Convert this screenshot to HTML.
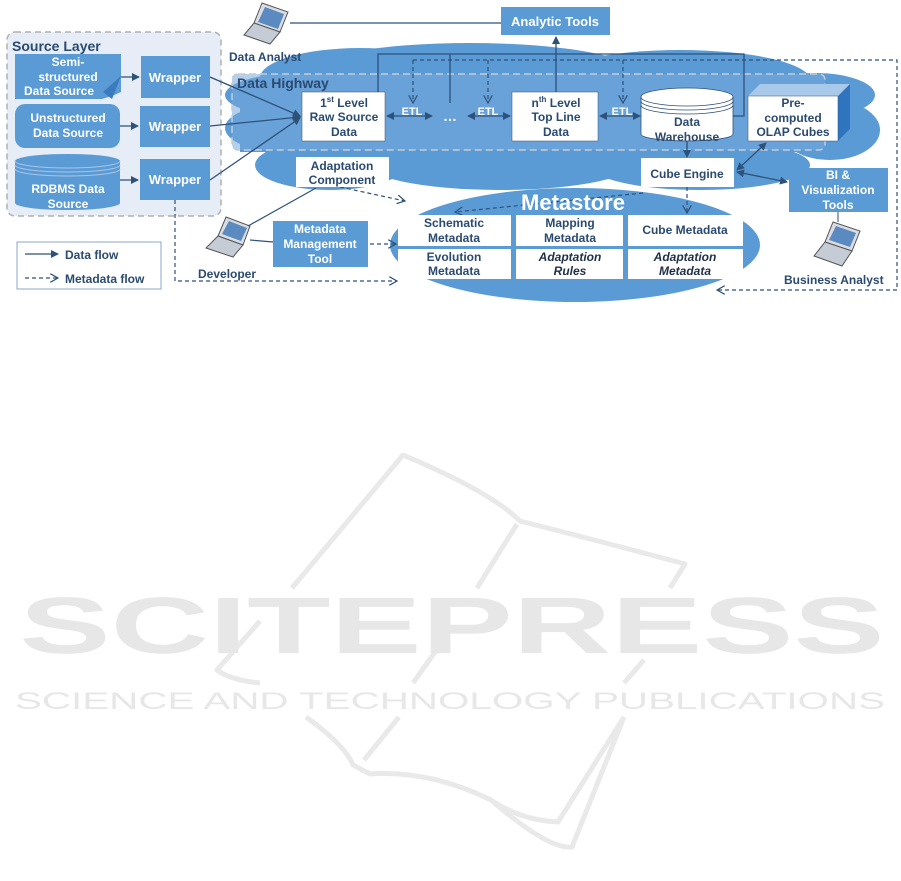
<!DOCTYPE html>
<html><head><meta charset="utf-8"><style>
html,body{margin:0;padding:0;background:#fff;}
svg{display:block;font-family:"Liberation Sans",sans-serif;}
</style></head><body>
<svg width="901" height="881" viewBox="0 0 901 881" xmlns="http://www.w3.org/2000/svg">
<defs>
<marker id="a" markerWidth="8" markerHeight="8" refX="7" refY="4" orient="auto" markerUnits="userSpaceOnUse"><path d="M0,0 L8,4 L0,8 Z" fill="#2e5179"/></marker>
<marker id="as" markerWidth="8" markerHeight="8" refX="1" refY="4" orient="auto" markerUnits="userSpaceOnUse"><path d="M8,0 L0,4 L8,8 Z" fill="#2e5179"/></marker>
<marker id="o" markerWidth="9" markerHeight="9" refX="8" refY="4.5" orient="auto" markerUnits="userSpaceOnUse"><path d="M0,0 L8,4.5 L0,9" fill="none" stroke="#2e5179" stroke-width="1.2"/></marker>
</defs>

<!-- watermark -->
<g fill="none" stroke="#e8e9e8" stroke-width="5" stroke-linejoin="round">
<path d="M292,588 L403,455 Q491,492 520,521 Q607,543 685,564 L670,588"/>
<path d="M517,524 L477,588"/>
<path d="M260,621 L217,670 Q230,680 260,683"/>
<path d="M445,638 L413,683"/>
<path d="M644,660 L624,683"/>
<path d="M306,717 Q345,745 353,765 L370,774 Q430,770 491,800 Q520,820 558,822 L624,717"/>
<path d="M399,717 L364,760"/>
<path d="M624,717 L572,847 Q549,850 491,800"/>
</g>
<text x="452" y="653" text-anchor="middle" font-size="80" font-weight="bold" fill="#e6e7e6" textLength="865" lengthAdjust="spacingAndGlyphs">SCITEPRESS</text>
<text x="450" y="709" text-anchor="middle" font-size="24" fill="#e6e7e6" textLength="870" lengthAdjust="spacingAndGlyphs">SCIENCE AND TECHNOLOGY PUBLICATIONS</text>

<!-- Source layer -->
<rect x="7" y="32" width="214" height="184" rx="8" fill="#e6edf6" stroke="#b0b0b0" stroke-width="1.5" stroke-dasharray="6,4"/>
<text x="12" y="51" font-size="14" font-weight="bold" fill="#2a4a70">Source Layer</text>

<!-- cloud -->
<g fill="#5b9bd5">
<ellipse cx="470" cy="75" rx="170" ry="32"/>
<ellipse cx="360" cy="78" rx="100" ry="30"/>
<ellipse cx="680" cy="80" rx="130" ry="30"/>
<ellipse cx="300" cy="95" rx="75" ry="22"/>
<ellipse cx="290" cy="128" rx="65" ry="25"/>
<ellipse cx="815" cy="95" rx="60" ry="22"/>
<ellipse cx="830" cy="130" rx="50" ry="30"/>
<rect x="240" y="88" width="610" height="64"/>
<ellipse cx="330" cy="165" rx="75" ry="25"/>
<ellipse cx="500" cy="160" rx="140" ry="30"/>
<ellipse cx="700" cy="165" rx="110" ry="25"/>
<ellipse cx="575" cy="245" rx="185" ry="57"/>
</g>
<rect x="232" y="74" width="593" height="76" rx="6" fill="#72a8dc" fill-opacity="0.55" stroke="#c4ccd6" stroke-width="1.5" stroke-dasharray="7,4"/>
<text x="237" y="88" font-size="14" font-weight="bold" fill="#2a4a70">Data Highway</text>

<!-- source boxes -->
<path d="M15,54 H121 V92 L112,96 L102,99 H15 Z" fill="#5b9bd5"/>
<path d="M121,76 L103,92 L112,99 Z" fill="#3a7bc0"/>
<g font-size="12" font-weight="bold" fill="#fff" text-anchor="middle">
<text x="68" y="66">Semi-</text>
<text x="68" y="81">structured</text>
<text x="59" y="95">Data Source</text>
</g>
<rect x="15" y="104" width="105" height="44" rx="10" fill="#5b9bd5"/>
<g font-size="12" font-weight="bold" fill="#fff" text-anchor="middle">
<text x="68" y="122">Unstructured</text>
<text x="68" y="137">Data Source</text>
</g>
<path d="M15,161 V203 A52.5,7 0 0 0 120,203 V161 A52.5,7 0 0 0 15,161 Z" fill="#5b9bd5"/>
<path d="M15,161 A52.5,7 0 0 0 120,161 M15,165 A52.5,7 0 0 0 120,165 M15,169 A52.5,7 0 0 0 120,169" fill="none" stroke="#a9c6e6" stroke-width="1"/>
<g font-size="12" font-weight="bold" fill="#fff" text-anchor="middle">
<text x="68" y="193">RDBMS Data</text>
<text x="68" y="208">Source</text>
</g>
<g fill="#5b9bd5">
<rect x="141" y="56" width="69" height="42"/>
<rect x="140" y="106" width="70" height="41"/>
<rect x="140" y="159" width="70" height="41"/>
</g>
<g font-size="13" font-weight="bold" fill="#fff" text-anchor="middle">
<text x="175" y="82">Wrapper</text>
<text x="175" y="131">Wrapper</text>
<text x="175" y="184">Wrapper</text>
</g>
<g stroke="#2e5179" stroke-width="1.3" fill="none" marker-end="url(#a)">
<line x1="121" y1="77" x2="139" y2="77"/>
<line x1="120" y1="126" x2="138" y2="126"/>
<line x1="120" y1="180" x2="138" y2="180"/>
<line x1="210" y1="77" x2="300" y2="116"/>
<line x1="210" y1="126" x2="300" y2="117"/>
<line x1="210" y1="180" x2="300" y2="118"/>
</g>

<!-- legend -->
<rect x="17" y="242" width="144" height="47" fill="#fff" stroke="#8aa8cc" stroke-width="1"/>
<line x1="25" y1="254" x2="58" y2="254" stroke="#2e5179" stroke-width="1.3" marker-end="url(#a)"/>
<line x1="25" y1="278" x2="58" y2="278" stroke="#2e5179" stroke-width="1.2" stroke-dasharray="4,3" marker-end="url(#o)"/>
<g font-size="12" font-weight="bold" fill="#2a4a70">
<text x="65" y="259">Data flow</text>
<text x="65" y="283">Metadata flow</text>
</g>

<!-- laptops -->
<g fill="#d9dde3" stroke="#555" stroke-width="1">
<path d="M262,3 L288,12 L280,32 L254,23 Z"/>
<path d="M254,23 L280,32 L270,44 L244,35 Z" fill="#c6ccd6"/>
</g>
<path d="M265,7 L284,14 L278,29 L258,22 Z" fill="#5a8ac0"/>
<g fill="#d9dde3" stroke="#555" stroke-width="1">
<path d="M226,217 L250,226 L243,245 L218,236 Z"/>
<path d="M218,236 L243,245 L233,257 L206,248 Z" fill="#c6ccd6"/>
</g>
<path d="M229,221 L247,228 L241,241 L222,234 Z" fill="#5a8ac0"/>
<g fill="#d9dde3" stroke="#555" stroke-width="1">
<path d="M833,222 L860,231 L852,251 L825,242 Z"/>
<path d="M825,242 L852,251 L842,266 L814,256 Z" fill="#c6ccd6"/>
</g>
<path d="M836,226 L856,233 L850,247 L829,240 Z" fill="#5a8ac0"/>
<g font-size="12" font-weight="bold" fill="#2a4a70">
<text x="229" y="61">Data Analyst</text>
<text x="198" y="278">Developer</text>
<text x="784" y="284">Business Analyst</text>
</g>

<!-- analytic tools -->
<rect x="501" y="7" width="109" height="28" fill="#5b9bd5"/>
<text x="555" y="26" font-size="13" font-weight="bold" fill="#fff" text-anchor="middle">Analytic Tools</text>
<line x1="290" y1="23" x2="501" y2="23" stroke="#2e5179" stroke-width="1.3"/>

<!-- top connectors -->
<g stroke="#2e5179" stroke-width="1.3" fill="none">
<path d="M378,92 V54 H744 V116 H733"/>
<line x1="450" y1="54" x2="450" y2="103"/>
<line x1="556" y1="92" x2="556" y2="37" marker-end="url(#a)"/>
</g>
<g stroke="#2e5179" stroke-width="1.2" fill="none" stroke-dasharray="4,3">
<path d="M413,60 H897 V290 H717" marker-end="url(#o)"/>
<line x1="413" y1="60" x2="413" y2="103" marker-end="url(#o)"/>
<line x1="488" y1="60" x2="488" y2="103" marker-end="url(#o)"/>
<line x1="623" y1="60" x2="623" y2="103" marker-end="url(#o)"/>
<path d="M175,200 V281 H397" marker-end="url(#o)"/>
<line x1="370" y1="244" x2="396" y2="244" marker-end="url(#o)"/>
<line x1="340" y1="187" x2="405" y2="201" marker-end="url(#o)"/>
<line x1="687" y1="187" x2="687" y2="213" marker-end="url(#o)"/>
<line x1="643" y1="193" x2="455" y2="212" marker-end="url(#o)"/>
</g>

<!-- highway boxes -->
<rect x="302" y="92" width="83" height="49" fill="#fff" stroke="#2e5179" stroke-width="0.5"/>
<g font-size="12" font-weight="bold" fill="#2a4a70" text-anchor="middle">
<text x="344" y="107">1<tspan font-size="8" dy="-5">st</tspan><tspan dy="5"> Level</tspan></text>
<text x="344" y="121">Raw Source</text>
<text x="344" y="136">Data</text>
</g>
<rect x="512" y="92" width="86" height="49" fill="#fff" stroke="#2e5179" stroke-width="0.5"/>
<g font-size="12" font-weight="bold" fill="#2a4a70" text-anchor="middle">
<text x="556" y="107">n<tspan font-size="8" dy="-5">th</tspan><tspan dy="5"> Level</tspan></text>
<text x="556" y="121">Top Line</text>
<text x="556" y="136">Data</text>
</g>
<text x="450" y="121" font-size="14" font-weight="bold" fill="#fff" text-anchor="middle">…</text>
<g stroke="#2e5179" stroke-width="1.3" marker-end="url(#a)" marker-start="url(#as)">
<line x1="387" y1="116" x2="432" y2="116"/>
<line x1="468" y1="116" x2="510" y2="116"/>
<line x1="600" y1="116" x2="640" y2="116"/>
</g>
<g font-size="11" font-weight="bold" fill="#fff" text-anchor="middle">
<text x="412" y="115">ETL</text>
<text x="488" y="115">ETL</text>
<text x="622" y="115">ETL</text>
</g>
<!-- warehouse -->
<path d="M641,97 V134 A46,7 0 0 0 733,134 V97 A46,9 0 0 0 641,97 Z" fill="#fff" stroke="#2e5179" stroke-width="0.8"/>
<path d="M641,97 A46,9 0 0 0 733,97 M641,101 A46,9 0 0 0 733,101 M641,105 A46,9 0 0 0 733,105" fill="none" stroke="#2e5179" stroke-width="0.8"/>
<g font-size="12" font-weight="bold" fill="#2a4a70" text-anchor="middle">
<text x="687" y="126">Data</text>
<text x="687" y="141">Warehouse</text>
</g>
<!-- olap cube -->
<path d="M748,96 L760,84 H850 V129 L838,141 Z" fill="#a8c9ea"/>
<path d="M838,96 L850,84 V129 L838,141 Z" fill="#2f74bf"/>
<rect x="748" y="96" width="90" height="45" fill="#fff" stroke="#2e5179" stroke-width="0.5"/>
<g font-size="12" font-weight="bold" fill="#2a4a70" text-anchor="middle">
<text x="793" y="107">Pre-</text>
<text x="793" y="122">computed</text>
<text x="793" y="136">OLAP Cubes</text>
</g>
<!-- cube engine -->
<rect x="641" y="158" width="93" height="29" fill="#fff"/>
<text x="687" y="178" font-size="12" font-weight="bold" fill="#2a4a70" text-anchor="middle">Cube Engine</text>
<line x1="687" y1="141" x2="687" y2="157" stroke="#2e5179" stroke-width="1.3" marker-end="url(#a)"/>
<g stroke="#2e5179" stroke-width="1.3" marker-end="url(#a)" marker-start="url(#as)">
<line x1="737" y1="170" x2="766" y2="143"/>
<line x1="737" y1="172" x2="787" y2="182"/>
</g>
<rect x="789" y="168" width="99" height="44" fill="#5b9bd5"/>
<g font-size="12" font-weight="bold" fill="#fff" text-anchor="middle">
<text x="838" y="179">BI &amp;</text>
<text x="838" y="194">Visualization</text>
<text x="838" y="209">Tools</text>
</g>
<line x1="838" y1="212" x2="838" y2="222" stroke="#2e5179" stroke-width="1"/>

<!-- adaptation component -->
<rect x="296" y="157" width="93" height="30" fill="#fff"/>
<g font-size="12" font-weight="bold" fill="#2a4a70" text-anchor="middle">
<text x="342" y="170">Adaptation</text>
<text x="342" y="184">Component</text>
</g>
<line x1="316" y1="188" x2="248" y2="226" stroke="#2e5179" stroke-width="1.2"/>
<line x1="250" y1="240" x2="273" y2="242" stroke="#2e5179" stroke-width="1.2"/>
<rect x="273" y="221" width="95" height="46" fill="#5b9bd5"/>
<g font-size="12" font-weight="bold" fill="#fff" text-anchor="middle">
<text x="320" y="233">Metadata</text>
<text x="320" y="248">Management</text>
<text x="320" y="263">Tool</text>
</g>

<!-- metastore -->
<text x="573" y="210" font-size="22" font-weight="bold" fill="#fff" text-anchor="middle">Metastore</text>
<g fill="#fff">
<rect x="398" y="215" width="113" height="31"/>
<rect x="516" y="215" width="107" height="31"/>
<rect x="628" y="215" width="115" height="31"/>
<rect x="398" y="249" width="113" height="30"/>
<rect x="516" y="249" width="107" height="30"/>
<rect x="628" y="249" width="115" height="30"/>
</g>
<g font-size="12" font-weight="bold" fill="#2a4a70" text-anchor="middle">
<text x="454" y="227">Schematic</text>
<text x="454" y="242">Metadata</text>
<text x="570" y="227">Mapping</text>
<text x="570" y="242">Metadata</text>
<text x="685" y="234">Cube Metadata</text>
<text x="454" y="261">Evolution</text>
<text x="454" y="275">Metadata</text>
<g font-style="italic" fill="#1f2f45">
<text x="570" y="261">Adaptation</text>
<text x="570" y="275">Rules</text>
<text x="685" y="261">Adaptation</text>
<text x="685" y="275">Metadata</text>
</g>
</g>
</svg>
</body></html>
